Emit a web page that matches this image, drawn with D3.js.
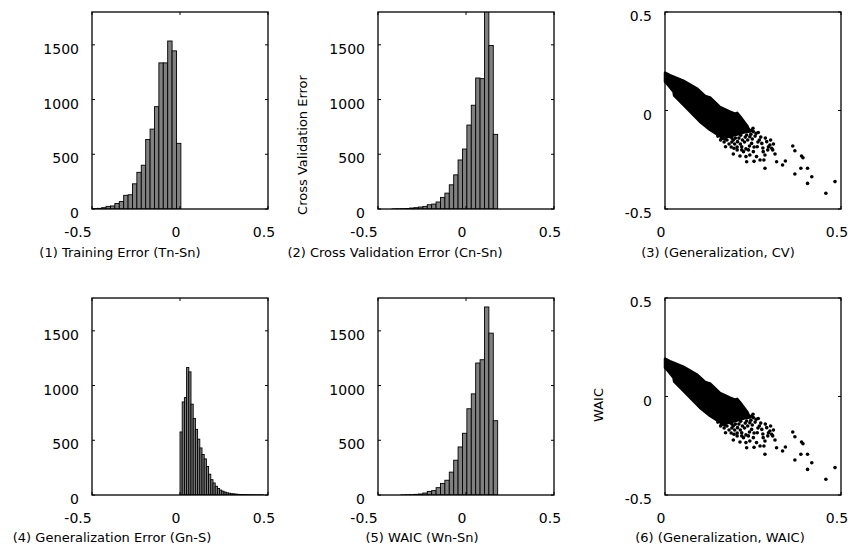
<!DOCTYPE html>
<html>
<head>
<meta charset="utf-8">
<script src="https://cdn.jsdelivr.net/npm/d3@7"></script>
<style>
  body { margin: 0; background: #fff; }
  svg { display: block; }
  text { font-family: "DejaVu Sans", "Noto Sans", sans-serif; fill: #000; }
</style>
</head>
<body>
<script>
// histogram counts, left to right
const trainBinStart = -0.495, trainBinWidth = 0.025;
const trainCounts = [3, 6, 12, 24, 28, 50, 68, 125, 130, 230, 335, 400, 635, 730, 935, 1335, 1335, 1535, 1445, 600];

const cvBinStart = -0.42, cvBinWidth = 0.025;
const cvCounts = [1, 2, 3, 5, 9, 12, 18, 24, 39, 45, 64, 106, 145, 221, 312, 448, 548, 767, 948, 1197, 1191, 1830, 1494, 682];

const genBinStart = 0, genBinWidth = 0.0125;
const genCounts = [576, 850, 890, 1165, 1125, 830, 700, 600, 510, 430, 370, 330, 260, 190, 140, 110, 80, 60, 45, 35, 27, 20, 16, 12, 10, 8, 6, 5, 4, 3, 3, 2, 2, 2, 1, 1, 1, 1];

const waicBinStart = -0.37, waicBinWidth = 0.025;
const waicCounts = [1, 2, 3, 6, 9, 18, 33, 40, 67, 106, 135, 209, 318, 439, 564, 788, 924, 1206, 1236, 1718, 1479, 679];

// scatter: outline of the dense cloud + the loose points around it
const cloudOutline = [
  [0, 0.192], [0.014, 0.180], [0.052, 0.152], [0.090, 0.113], [0.114, 0.074], [0.128, 0.066],
  [0.156, 0.018], [0.185, -0.006], [0.199, -0.016], [0.205, -0.012], [0.218, -0.040],
  [0.234, -0.079], [0.241, -0.107], [0.223, -0.112], [0.200, -0.125], [0.166, -0.140],
  [0.147, -0.120], [0.128, -0.099], [0.099, -0.057], [0.071, -0.006], [0.043, 0.045],
  [0.026, 0.075], [0.024, 0.096], [0.009, 0.129], [0, 0.146]
];
const loosePoints = [
  [0.163, -0.141], [0.172, -0.184], [0.185, -0.133], [0.194, -0.150], [0.206, -0.158],
  [0.218, -0.184], [0.223, -0.209], [0.230, -0.234], [0.237, -0.200], [0.241, -0.133],
  [0.246, -0.167], [0.251, -0.209], [0.259, -0.116], [0.262, -0.184], [0.268, -0.150],
  [0.275, -0.167], [0.279, -0.209], [0.284, -0.226], [0.289, -0.158], [0.294, -0.184],
  [0.298, -0.175], [0.303, -0.192], [0.308, -0.170], [0.251, -0.107], [0.265, -0.112],
  [0.208, -0.091], [0.223, -0.107], [0.232, -0.124], [0.180, -0.107], [0.241, -0.226],
  [0.260, -0.234], [0.270, -0.251], [0.205, -0.200], [0.213, -0.231], [0.196, -0.192],
  [0.194, -0.221], [0.232, -0.260], [0.253, -0.258], [0.284, -0.293], [0.281, -0.251],
  [0.3125, -0.221], [0.317, -0.260], [0.334, -0.277], [0.342, -0.256], [0.363, -0.180],
  [0.369, -0.204], [0.388, -0.231], [0.392, -0.240], [0.369, -0.322], [0.386, -0.293],
  [0.405, -0.293], [0.417, -0.336], [0.405, -0.370], [0.483, -0.361], [0.457, -0.420],
  [0.150, -0.130], [0.158, -0.150], [0.168, -0.160], [0.176, -0.150], [0.182, -0.170],
  [0.190, -0.160], [0.198, -0.170], [0.200, -0.140], [0.210, -0.140], [0.214, -0.170],
  [0.220, -0.150], [0.226, -0.160], [0.228, -0.135], [0.235, -0.150], [0.240, -0.180],
  [0.244, -0.120], [0.248, -0.145], [0.253, -0.185], [0.256, -0.130], [0.264, -0.160],
  [0.272, -0.135], [0.278, -0.190], [0.285, -0.140], [0.292, -0.200], [0.300, -0.150],
  [0.306, -0.200], [0.230, -0.195], [0.218, -0.200], [0.205, -0.185], [0.188, -0.185],
  [0.176, -0.130], [0.245, -0.100], [0.236, -0.095], [0.226, -0.085], [0.212, -0.075],
  [0.250, -0.090], [0.160, -0.140], [0.170, -0.145], [0.190, -0.140], [0.215, -0.125]
];

const histXTicks = [-0.5, 0, 0.5];
const histYTicks = [0, 500, 1000, 1500];
const scatXTicks = [0, 0.5];
const scatYTicks = [-0.5, 0, 0.5];

const titles = [
  "(1) Training Error (Tn-Sn)", "(2) Cross Validation Error (Cn-Sn)", "(3) (Generalization, CV)",
  "(4) Generalization Error (Gn-S)", "(5) WAIC (Wn-Sn)", "(6) (Generalization, WAIC)"
];

const W = 848, H = 554;
const svg = d3.select("body").append("svg").attr("width", W).attr("height", H);

const colX = [92, 378, 665];
const rowY = [12, 298];
const pw = 176, ph = 197;

function frame(g, x, y, xt, yt) {
  g.append("rect").attr("width", pw).attr("height", ph)
    .attr("fill", "none").attr("stroke", "#000").attr("stroke-width", 1.3);
  // small inward ticks on all sides
  xt.forEach(v => {
    g.append("line").attr("x1", x(v)).attr("x2", x(v)).attr("y1", 0).attr("y2", 3).attr("stroke", "#000");
    g.append("line").attr("x1", x(v)).attr("x2", x(v)).attr("y1", ph).attr("y2", ph - 3).attr("stroke", "#000");
  });
  yt.forEach(v => {
    g.append("line").attr("x1", 0).attr("x2", 3).attr("y1", y(v)).attr("y2", y(v)).attr("stroke", "#000");
    g.append("line").attr("x1", pw).attr("x2", pw - 3).attr("y1", y(v)).attr("y2", y(v)).attr("stroke", "#000");
  });
  g.selectAll(".xl").data(xt).enter().append("text")
    .attr("x", d => x(d) - (d < 0 ? 14 : 4)).attr("y", ph + 28)
    .attr("text-anchor", "middle").style("font-size", "14px")
    .text(d => d);
  g.selectAll(".yl").data(yt).enter().append("text")
    .attr("x", -13).attr("y", d => y(d) + 9)
    .attr("text-anchor", "end").style("font-size", "14px")
    .text(d => d);
}

function histogram(col, row, counts, start, width) {
  const g = svg.append("g").attr("transform", `translate(${colX[col]},${rowY[row]})`);
  const x = d3.scaleLinear().domain([-0.5, 0.5]).range([0, pw]);
  const y = d3.scaleLinear().domain([0, 1800]).range([ph, 0]);
  const id = "clip" + col + row;
  g.append("clipPath").attr("id", id).append("rect").attr("width", pw).attr("height", ph);
  g.append("g").attr("clip-path", `url(#${id})`)
    .selectAll("rect").data(counts).enter().append("rect")
    .attr("x", (d, i) => x(start + i * width))
    .attr("width", x(width) - x(0))
    .attr("y", d => y(d))
    .attr("height", d => y(0) - y(d))
    .attr("fill", "#808080").attr("stroke", "#000").attr("stroke-width", 0.9);
  frame(g, x, y, histXTicks, histYTicks);
  return g;
}

function scatter(col, row) {
  const g = svg.append("g").attr("transform", `translate(${colX[col]},${rowY[row]})`);
  const x = d3.scaleLinear().domain([0, 0.5]).range([0, pw]);
  const y = d3.scaleLinear().domain([-0.5, 0.5]).range([ph, 0]);
  g.append("path").datum(cloudOutline)
    .attr("d", d3.line().x(d => x(d[0])).y(d => y(d[1])).curve(d3.curveLinearClosed))
    .attr("fill", "#000").attr("stroke", "#000").attr("stroke-width", 2.5)
    .attr("stroke-linejoin", "round");
  g.selectAll("circle").data(loosePoints).enter().append("circle")
    .attr("cx", d => x(d[0])).attr("cy", d => y(d[1])).attr("r", 1.8).attr("fill", "#000");
  frame(g, x, y, scatXTicks, scatYTicks);
  return g;
}

histogram(0, 0, trainCounts, trainBinStart, trainBinWidth);
histogram(1, 0, cvCounts, cvBinStart, cvBinWidth);
scatter(2, 0);
histogram(0, 1, genCounts, genBinStart, genBinWidth);
histogram(1, 1, waicCounts, waicBinStart, waicBinWidth);
scatter(2, 1);

// y axis titles
svg.append("text").attr("transform", "translate(307,145) rotate(-90)")
  .attr("text-anchor", "middle").style("font-size", "13px").text("Cross Validation Error");
svg.append("text").attr("transform", "translate(603,405) rotate(-90)")
  .attr("text-anchor", "middle").style("font-size", "13px").text("WAIC");

// panel captions
const titleX = [120, 395, 718, 112, 422, 720];
const titleY = [257, 257, 257, 542, 542, 542];
svg.selectAll(".cap").data(titles).enter().append("text")
  .attr("x", (d, i) => titleX[i]).attr("y", (d, i) => titleY[i])
  .attr("text-anchor", "middle").style("font-size", "13px")
  .text(d => d);
</script>
</body>
</html>
